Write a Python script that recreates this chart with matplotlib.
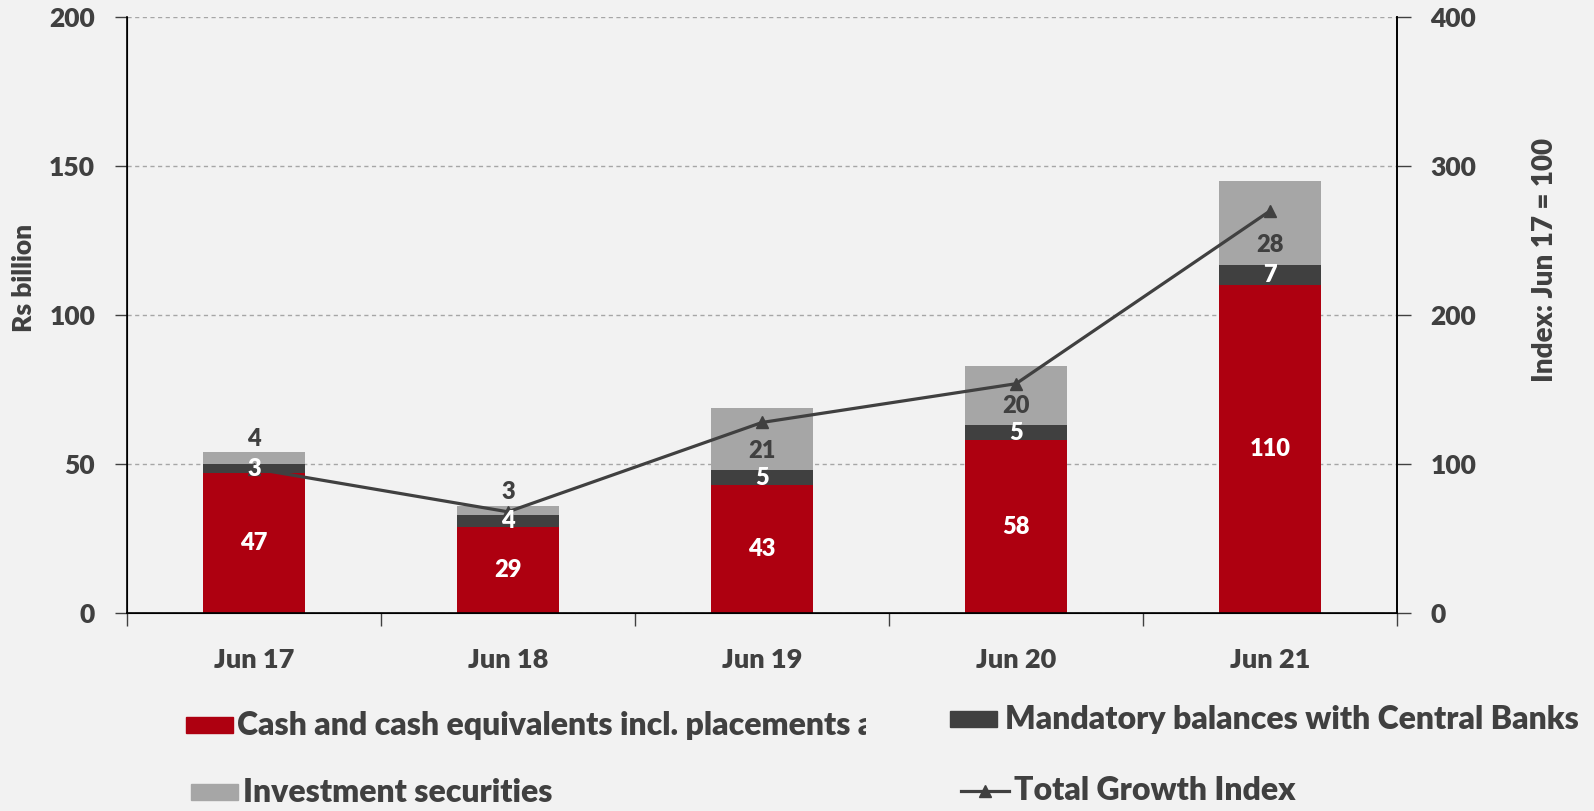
import matplotlib
matplotlib.use("Agg")
import matplotlib.pyplot as plt
import numpy as np
from matplotlib.patches import Rectangle
from matplotlib.lines import Line2D
from matplotlib.transforms import Bbox, TransformedBbox

plt.rcParams['font.family'] = ['Lato', 'DejaVu Sans']
plt.rcParams['font.weight'] = 800

# data (Rs billion)
periods = ["Jun 17", "Jun 18", "Jun 19", "Jun 20", "Jun 21"]
cash = [47, 29, 43, 58, 110]
mandatory = [3, 4, 5, 5, 7]
investment = [4, 3, 21, 20, 28]
growth_index = [97, 68, 128, 154, 270]

BG = "#F2F2F2"
RED = "#AE0010"
DARK = "#404040"
LIGHT = "#A6A6A6"
TXT = "#404040"
WT = 800
LBL = 17

fig = plt.figure(figsize=(15.94, 8.11), dpi=100, facecolor=BG)
ax = fig.add_axes([0.0797, 0.244, 0.7967, 0.7347])
ax.set_facecolor(BG)

x = np.arange(len(periods))
cash = np.array(cash)
mandatory = np.array(mandatory)
investment = np.array(investment)
w = 0.40

ax.bar(x, cash, w, color=RED, zorder=2)
ax.bar(x, mandatory, w, bottom=cash, color=DARK, zorder=2)
ax.bar(x, investment, w, bottom=cash + mandatory, color=LIGHT, zorder=2)

ax.set_ylim(0, 200)
ax.set_xlim(-0.5, 4.5)
ax.set_yticks([0, 50, 100, 150, 200])
ax.yaxis.grid(True, linestyle=(0, (3, 2.5)), color="#A6A6A6", linewidth=1, zorder=0)
ax.set_axisbelow(True)

# category boundaries as major ticks, labels on minor ticks
ax.set_xticks(np.arange(-0.5, 5, 1))
ax.set_xticklabels([])
ax.set_xticks(x, minor=True)
ax.set_xticklabels(periods, minor=True, fontweight=WT)
ax.tick_params(axis='x', which='major', length=9, direction='out', color=DARK, width=1)
ax.tick_params(axis='x', which='minor', length=0, pad=25, labelsize=19.5, labelcolor=TXT)
ax.tick_params(axis='y', length=9, direction='out', color=DARK, width=1, pad=14,
               labelsize=19, labelcolor=TXT)
for lbl in ax.get_yticklabels():
    lbl.set_fontweight(WT)

ax.spines['top'].set_visible(False)
for s in ['left', 'bottom', 'right']:
    ax.spines[s].set_color('black')
    ax.spines[s].set_linewidth(1.2)

ax2 = ax.twinx()
ax2.set_ylim(0, 400)
ax2.set_yticks([0, 100, 200, 300, 400])
ax2.tick_params(axis='y', length=10, direction='out', color=DARK, width=1, pad=14,
                labelsize=19, labelcolor=TXT)
for lbl in ax2.get_yticklabels():
    lbl.set_fontweight(WT)
ax2.spines['top'].set_visible(False)
ax2.spines['right'].set_color('black')
ax2.spines['right'].set_linewidth(1.2)
ax2.plot(x, growth_index, color=DARK, linewidth=2.3, marker='^', markersize=9, zorder=4)

# segment labels go on the twin so they sit above the index line
for i in range(len(x)):
    ax2.text(x[i], cash[i] / 2, str(cash[i]), transform=ax.transData, ha='center', va='center',
             color='white', fontsize=LBL, fontweight=WT, zorder=6)
    ax2.text(x[i], cash[i] + mandatory[i] / 2, str(mandatory[i]), transform=ax.transData,
             ha='center', va='center', color='white', fontsize=LBL, fontweight=WT, zorder=6)
    base = cash[i] + mandatory[i]
    if investment[i] < 10:
        ax2.text(x[i], base + investment[i] + 0.8, str(investment[i]), transform=ax.transData,
                 ha='center', va='bottom', color=TXT, fontsize=LBL, fontweight=WT, zorder=6)
    else:
        # label sits near the base of the segment
        ax2.annotate(str(investment[i]), (x[i], base), xycoords=ax.transData,
                     xytext=(0, 14), textcoords='offset points', ha='center', va='center',
                     color=TXT, fontsize=LBL, fontweight=WT, zorder=6)

fig.text(0.015, 1 - 278 / 811, "Rs billion", rotation=90, ha='center', va='center',
         fontsize=19, color=TXT, fontweight=WT)
fig.text(0.969, 1 - 260 / 811, "Index: Jun 17 = 100", rotation=90, ha='center', va='center',
         fontsize=20, color=TXT, fontweight=WT)

# legend drawn in figure coordinates
W, H = 1594.0, 811.0

def patch(px, py, color):
    fig.patches.append(Rectangle((px / W, 1 - (py + 16) / H), 47 / W, 16 / H,
                                 transform=fig.transFigure, color=color))

patch(186, 717, RED)
patch(950, 711, DARK)
patch(191, 784, LIGHT)
fig.lines.append(Line2D([961 / W, 985 / W, 1009 / W], [1 - 791 / H] * 3,
                        transform=fig.transFigure, color=DARK, linewidth=2.3,
                        marker='^', markersize=9, markevery=[1]))

t1 = fig.text(237 / W, 1 - 725 / H, "Cash and cash equivalents incl. placements and",
              ha='left', va='center', fontsize=23, color=TXT, fontweight=WT)
t1.set_clip_box(TransformedBbox(Bbox([[0, 0], [866 / W, 1]]), fig.transFigure))
t1.set_clip_on(True)
fig.text(1005 / W, 1 - 719 / H, "Mandatory balances with Central Banks",
         ha='left', va='center', fontsize=23, color=TXT, fontweight=WT)
fig.text(243 / W, 1 - 792 / H, "Investment securities",
         ha='left', va='center', fontsize=23, color=TXT, fontweight=WT)
fig.text(1014 / W, 1 - 790 / H, "Total Growth Index",
         ha='left', va='center', fontsize=23, color=TXT, fontweight=WT)

fig.savefig("out.png", dpi=100, facecolor=BG)
